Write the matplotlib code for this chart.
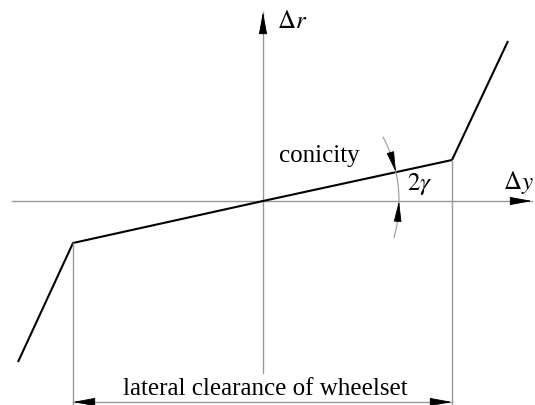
import matplotlib.pyplot as plt
import numpy as np

plt.rcParams['font.family'] = ['Liberation Serif', 'DejaVu Serif']
plt.rcParams['mathtext.fontset'] = 'stix'

# wheel rolling radius difference vs lateral displacement (schematic units)
dy = [-245, -190, 0, 189, 245]
dr = [-161, -42, 0, 41, 160]
clearance = [-190, 189]          # flange contact points
arc_radius = 136
arc_span = [-15.5, 28]           # degrees

gray = '#999999'

fig = plt.figure(figsize=(5.35, 4.05), dpi=100)
ax = fig.add_axes([0, 0, 1, 1])
ax.set_xlim(-263, 272)
ax.set_ylim(-204, 201)
ax.set_aspect('equal')
ax.axis('off')


def head(tip, tail, length=14, width=2.6):
    ax.annotate('', xy=tip, xytext=tail,
                arrowprops=dict(arrowstyle=f'-|>,head_length={length},head_width={width}',
                                color='black', lw=0.6, mutation_scale=1,
                                shrinkA=0, shrinkB=0))


# coordinate axes
ax.plot([-251, 269], [0, 0], color=gray, lw=1.0)
ax.plot([0, 0], [-172, 189], color=gray, lw=1.0)
head((269, 0), (249, 0))
head((0, 189), (0, 169))
ax.text(14, 179, r'$\Delta r$', fontsize=18, va='center', ha='left')
ax.text(255, 19, r'$\Delta y$', fontsize=18, va='center', ha='center')

# characteristic
ax.plot(dy, dr, color='black', lw=1.5, solid_capstyle='butt')

# extension lines and clearance dimension
y_dim = -201
for x0, r0 in zip(clearance, [dr[1], dr[3]]):
    ax.plot([x0, x0], [r0, -210], color=gray, lw=1.0)
ax.plot(clearance, [y_dim, y_dim], color=gray, lw=1.0)
head((clearance[0], y_dim), (clearance[0] + 20, y_dim))
head((clearance[1], y_dim), (clearance[1] - 20, y_dim))
ax.text(np.mean(clearance) + 3, y_dim + 7, 'lateral clearance of wheelset',
        fontsize=18, ha='center', va='baseline')

# conicity angle
t = np.radians(np.linspace(arc_span[0], arc_span[1], 100))
ax.plot(arc_radius * np.cos(t), arc_radius * np.sin(t), color=gray, lw=0.8)
slope_ang = np.arctan2(dr[3], dy[3])
a_tail = slope_ang + np.radians(7)
head((arc_radius * np.cos(slope_ang), arc_radius * np.sin(slope_ang)),
     (arc_radius * np.cos(a_tail), arc_radius * np.sin(a_tail)), length=13, width=2.4)
b_tail = np.radians(-7.5)
head((arc_radius, 0), (arc_radius * np.cos(b_tail), arc_radius * np.sin(b_tail)),
     length=13, width=2.4)
ax.text(56, 45, 'conicity', fontsize=18, ha='center', va='center')
ax.text(157, 17, r'$2\gamma$', fontsize=18, ha='center', va='center')

fig.savefig('out.png', dpi=100)
